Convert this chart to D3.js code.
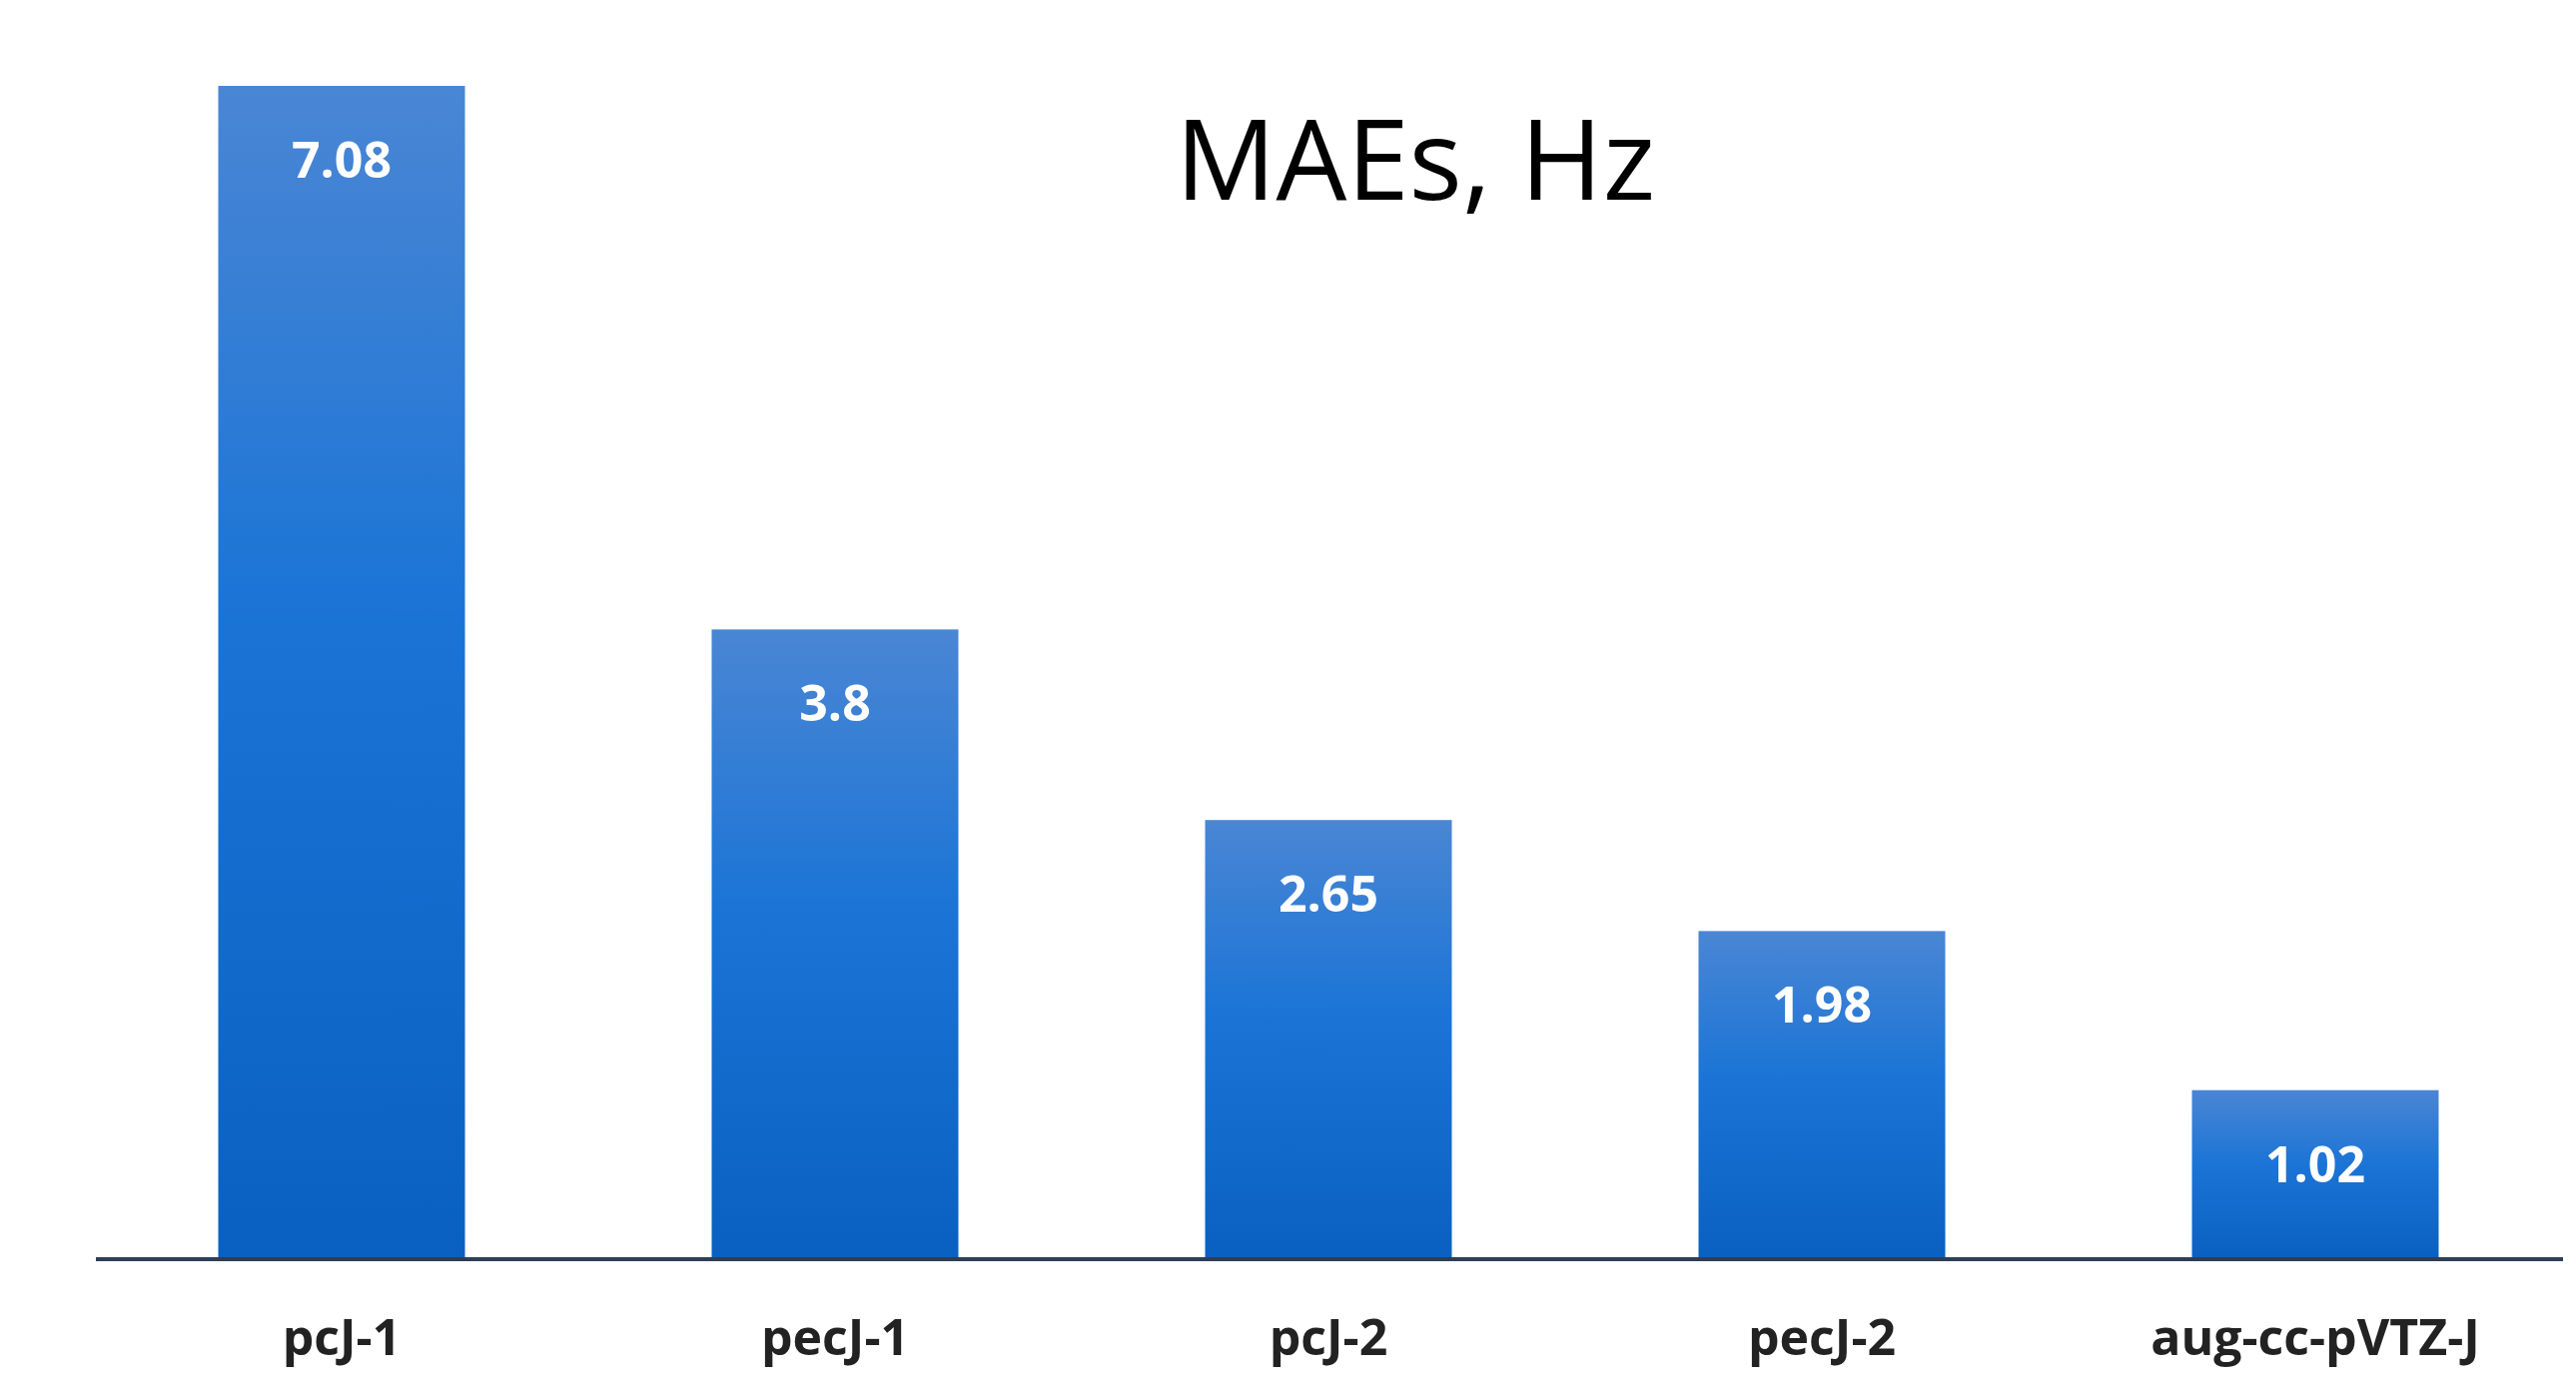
<!DOCTYPE html>
<html>
<head>
<meta charset="utf-8">
<script src="https://cdn.jsdelivr.net/npm/d3@7"></script>
<style>
  body { margin: 0; background: #fff; }
  text { font-family: "Open Sans", "Liberation Sans", sans-serif; }
</style>
</head>
<body>
<script>
var categories = ["pcJ-1", "pecJ-1", "pcJ-2", "pecJ-2", "aug-cc-pVTZ-J"];
var values = [7.08, 3.8, 2.65, 1.98, 1.02];
var valueLabels = ["7.08", "3.8", "2.65", "1.98", "1.02"];
var title = "MAEs, Hz";

var svgWidth = 2579, svgHeight = 1401;
var baseY = 1261;

var svg = d3.select("body").append("svg")
  .attr("width", svgWidth)
  .attr("height", svgHeight);

// vertical gradient for the bars
var grad = svg.append("defs").append("linearGradient")
  .attr("id", "barGrad")
  .attr("x1", 0).attr("y1", 0).attr("x2", 0).attr("y2", 1);
grad.append("stop").attr("offset", "0%").attr("stop-color", "#4a86d4");
grad.append("stop").attr("offset", "45%").attr("stop-color", "#1a74d6");
grad.append("stop").attr("offset", "100%").attr("stop-color", "#0a60c0");

var x = d3.scaleBand()
  .domain(categories)
  .range([95, 2565])
  .paddingInner(0.5)
  .paddingOuter(0.25);

var y = d3.scaleLinear()
  .domain([0, 7.08])
  .range([baseY, 86]);

var data = categories.map(function(c, i) { return {cat: c, val: values[i], label: valueLabels[i]}; });

svg.selectAll("rect.bar")
  .data(data)
  .enter()
  .append("rect")
  .attr("class", "bar")
  .attr("x", d => x(d.cat))
  .attr("y", d => y(d.val))
  .attr("width", x.bandwidth())
  .attr("height", d => baseY - y(d.val))
  .attr("fill", "url(#barGrad)");

// value labels inside the bars
svg.selectAll("text.val")
  .data(data)
  .enter()
  .append("text")
  .attr("class", "val")
  .attr("x", d => x(d.cat) + x.bandwidth() / 2)
  .attr("y", d => y(d.val) + 92)
  .attr("text-anchor", "middle")
  .attr("fill", "#fff")
  .attr("font-size", 50)
  .attr("font-weight", "bold")
  .text(d => d.label);

// baseline axis
var xAxis = d3.axisBottom(x).tickSize(0).tickPadding(60);
var axisG = svg.append("g")
  .attr("transform", `translate(0, ${baseY})`)
  .call(xAxis);
axisG.select(".domain")
  .attr("d", "M96,0H2566")
  .attr("stroke", "#2e3e55")
  .attr("stroke-width", 4);
axisG.selectAll("text")
  .attr("font-size", 50)
  .attr("font-weight", "bold")
  .attr("fill", "#222")
  .style("font-family", "'Open Sans', sans-serif");

svg.append("text")
  .attr("x", 1417)
  .attr("y", 200)
  .attr("text-anchor", "middle")
  .attr("font-size", 112)
  .attr("fill", "#000")
  .text(title);
</script>
</body>
</html>
